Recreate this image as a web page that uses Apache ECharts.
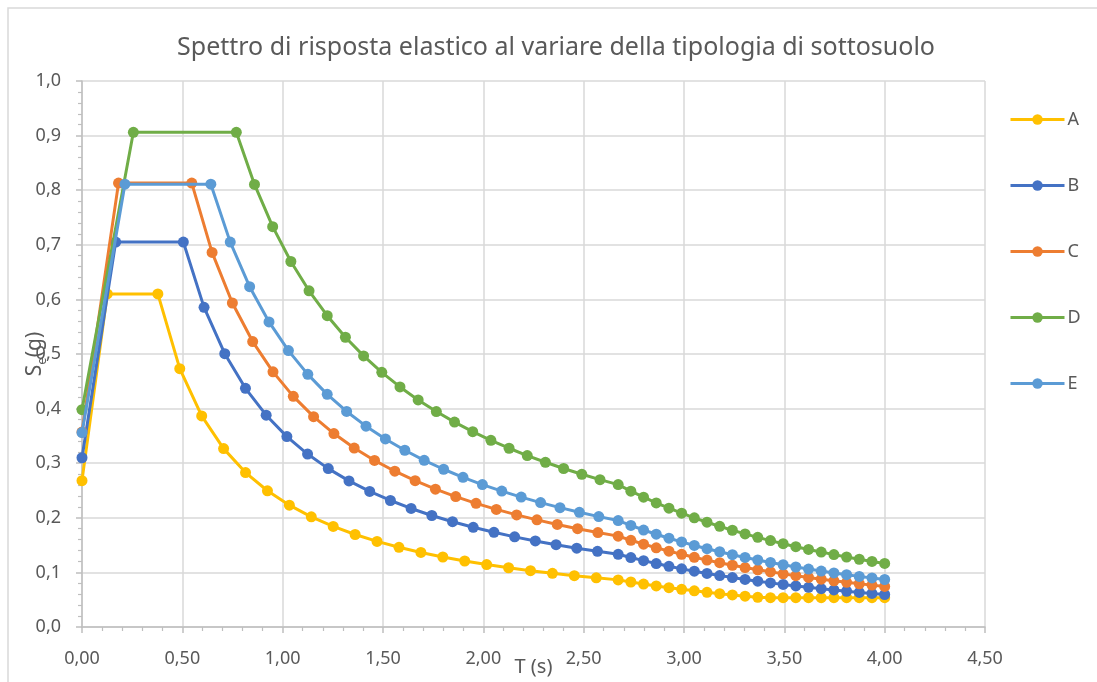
<!DOCTYPE html>
<html>
<head>
<meta charset="utf-8">
<script src="https://cdn.jsdelivr.net/npm/echarts@6/dist/echarts.min.js"></script>
<style>
html,body{margin:0;padding:0;background:#fff;}
#chart{width:1097px;height:682px;}
</style>
</head>
<body>
<div id="chart"></div>
<script>
const titleText = 'Spettro di risposta elastico al variare della tipologia di sottosuolo';
const seriesNames = ['A', 'B', 'C', 'D', 'E'];
const xTicks = [0, 0.5, 1, 1.5, 2, 2.5, 3, 3.5, 4, 4.5];

// periods T (s) beyond TD, shared by all soil types
const tTail = [2.7352, 2.7985, 2.8617, 2.9250, 2.9882, 3.0514, 3.1147, 3.1779, 3.2411, 3.3044, 3.3676,
  3.4309, 3.4941, 3.5573, 3.6206, 3.6838, 3.7470, 3.8103, 3.8735, 3.9368, 4.0000];

// periods T (s) up to TD for each soil type
const tHeadA = [0, 0.126, 0.378, 0.4872, 0.5965, 0.7057, 0.8150, 0.9242, 1.0334, 1.1427, 1.2519, 1.3611,
  1.4704, 1.5796, 1.6889, 1.7981, 1.9073, 2.0166, 2.1258, 2.2350, 2.3443, 2.4535, 2.5628, 2.672];
const tHeadB = [0, 0.168, 0.505, 0.6082, 0.7114, 0.8146, 0.9178, 1.0210, 1.1241, 1.2273, 1.3305, 1.4337,
  1.5369, 1.6401, 1.7433, 1.8465, 1.9497, 2.0529, 2.1560, 2.2592, 2.3624, 2.4656, 2.5688, 2.672];
const tHeadC = [0, 0.182, 0.547, 0.6482, 0.7494, 0.8506, 0.9518, 1.0530, 1.1541, 1.2553, 1.3565, 1.4577,
  1.5589, 1.6601, 1.7613, 1.8625, 1.9637, 2.0649, 2.1660, 2.2672, 2.3684, 2.4696, 2.5708, 2.672];
const tHeadD = [0, 0.256, 0.769, 0.8596, 0.9502, 1.0409, 1.1315, 1.2221, 1.3127, 1.4033, 1.4940, 1.5846,
  1.6752, 1.7658, 1.8564, 1.9471, 2.0377, 2.1283, 2.2189, 2.3095, 2.4001, 2.4908, 2.5814, 2.672];
const tHeadE = [0, 0.214, 0.642, 0.7387, 0.8353, 0.9320, 1.0287, 1.1253, 1.2220, 1.3187, 1.4153, 1.5120,
  1.6087, 1.7053, 1.8020, 1.8987, 1.9953, 2.0920, 2.1887, 2.2853, 2.3820, 2.4787, 2.5753, 2.672];

// Se (g) values
const seA = [0.268, 0.61, 0.61, 0.4732, 0.3866, 0.3267, 0.2829, 0.2495, 0.2231, 0.2018, 0.1842, 0.1694,
  0.1568, 0.1460, 0.1365, 0.1282, 0.1209, 0.1143, 0.1085, 0.1032, 0.0984, 0.0940, 0.0900, 0.0863,
  0.0824, 0.0787, 0.0752, 0.0720, 0.0690, 0.0662, 0.0635, 0.0610, 0.0587, 0.0564, 0.0543,
  0.0536, 0.0536, 0.0536, 0.0536, 0.0536, 0.0536, 0.0536, 0.0536, 0.0536, 0.0536];
const seB = [0.31, 0.705, 0.705, 0.5854, 0.5005, 0.4371, 0.3879, 0.3487, 0.3167, 0.2901, 0.2676, 0.2483,
  0.2317, 0.2171, 0.2042, 0.1928, 0.1826, 0.1734, 0.1651, 0.1576, 0.1507, 0.1444, 0.1386, 0.1332,
  0.1272, 0.1215, 0.1162, 0.1112, 0.1065, 0.1022, 0.0981, 0.0942, 0.0906, 0.0871, 0.0839,
  0.0808, 0.0779, 0.0752, 0.0726, 0.0701, 0.0678, 0.0655, 0.0634, 0.0614, 0.0595];
const seC = [0.357, 0.813, 0.813, 0.6861, 0.5934, 0.5228, 0.4673, 0.4224, 0.3853, 0.3543, 0.3278, 0.3051,
  0.2853, 0.2679, 0.2525, 0.2388, 0.2265, 0.2154, 0.2053, 0.1962, 0.1878, 0.1801, 0.1730, 0.1664,
  0.1588, 0.1517, 0.1451, 0.1389, 0.1331, 0.1276, 0.1225, 0.1177, 0.1131, 0.1088, 0.1048,
  0.1010, 0.0973, 0.0939, 0.0907, 0.0876, 0.0846, 0.0819, 0.0792, 0.0767, 0.0743];
const seD = [0.398, 0.906, 0.906, 0.8105, 0.7332, 0.6694, 0.6158, 0.5701, 0.5307, 0.4965, 0.4664, 0.4397,
  0.4159, 0.3946, 0.3753, 0.3578, 0.3419, 0.3274, 0.3140, 0.3017, 0.2903, 0.2797, 0.2699, 0.2608,
  0.2488, 0.2377, 0.2273, 0.2176, 0.2085, 0.1999, 0.1919, 0.1843, 0.1772, 0.1705, 0.1642,
  0.1582, 0.1525, 0.1471, 0.1420, 0.1372, 0.1326, 0.1282, 0.1241, 0.1201, 0.1164];
const seE = [0.356, 0.811, 0.811, 0.7049, 0.6233, 0.5587, 0.5062, 0.4627, 0.4261, 0.3948, 0.3679, 0.3444,
  0.3237, 0.3053, 0.2889, 0.2742, 0.2609, 0.2489, 0.2379, 0.2278, 0.2186, 0.2101, 0.2022, 0.1949,
  0.1860, 0.1776, 0.1699, 0.1626, 0.1558, 0.1494, 0.1434, 0.1378, 0.1324, 0.1274, 0.1227,
  0.1182, 0.1140, 0.1099, 0.1061, 0.1025, 0.0991, 0.0958, 0.0927, 0.0898, 0.0870];

const colors = ['#FFC000', '#4472C4', '#ED7D31', '#70AD47', '#5B9BD5'];
const tHeads = [tHeadA, tHeadB, tHeadC, tHeadD, tHeadE];
const seVals = [seA, seB, seC, seD, seE];

const FONT = '"Noto Sans", "Open Sans", sans-serif';
const GREY = '#595959';

const series = seriesNames.map((name, i) => {
  const ts = tHeads[i].concat(tTail);
  return {
    name: name,
    type: 'line',
    data: ts.map((t, j) => [t, seVals[i][j]]),
    symbol: 'circle',
    symbolSize: 11,
    showAllSymbol: true,
    lineStyle: { width: 3, color: colors[i] },
    itemStyle: { color: colors[i] },
    z: 2 + i
  };
});

const chart = echarts.init(document.getElementById('chart'), null, { renderer: 'canvas' });
chart.setOption({
  animation: false,
  color: colors,
  graphic: [{
    type: 'rect',
    shape: { x: 8, y: 8, width: 1200, height: 800 },
    style: { fill: 'none', stroke: '#d9d9d9', lineWidth: 1.5 },
    silent: true, z: -10
  }],
  title: {
    text: titleText,
    left: 556,
    textAlign: 'center',
    top: 35,
    padding: 0,
    textStyle: { fontFamily: FONT, fontSize: 25, fontWeight: 'normal', color: GREY }
  },
  legend: {
    orient: 'vertical',
    left: 1004,
    top: 105,
    itemWidth: 54,
    itemHeight: 13,
    itemGap: 47,
    data: seriesNames,
    lineStyle: { width: 3 },
    textStyle: { fontFamily: FONT, fontSize: 18, color: GREY, lineHeight: 19, padding: [0, 0, 0, -2] }
  },
  grid: { left: 82, right: 112, top: 81, bottom: 55, containLabel: false, outerBoundsMode: 'none' },
  xAxis: {
    type: 'value',
    min: xTicks[0],
    max: xTicks[xTicks.length - 1],
    interval: 0.5,
    name: 'T (s)',
    nameLocation: 'middle',
    nameGap: 30,
    nameMoveOverlap: false,
    nameTextStyle: { fontFamily: FONT, fontSize: 20, color: GREY },
    axisLine: { show: true, lineStyle: { color: '#bfbfbf', width: 1.5 } },
    axisTick: { show: true, length: 6, lineStyle: { color: '#bfbfbf', width: 1.5 } },
    minorTick: { show: true, splitNumber: 5, length: 4, lineStyle: { color: '#bfbfbf', width: 1.2 } },
    splitLine: { show: true, lineStyle: { color: '#d9d9d9', width: 1.5 } },
    axisLabel: {
      margin: 23,
      fontFamily: FONT, fontSize: 18, color: GREY,
      formatter: v => v.toFixed(2).replace('.', ',')
    }
  },
  yAxis: {
    type: 'value',
    min: 0,
    max: 1,
    interval: 0.1,
    name: '{s|S}{e|e}{s|(g)}',
    nameLocation: 'middle',
    nameRotate: 90,
    nameGap: 33,
    nameMoveOverlap: false,
    nameTextStyle: {
      fontFamily: FONT, color: GREY,
      rich: {
        s: { fontFamily: FONT, fontSize: 21, color: GREY, lineHeight: 28, verticalAlign: 'middle' },
        e: { fontFamily: FONT, fontSize: 13, color: GREY, lineHeight: 28, verticalAlign: 'bottom' }
      }
    },
    axisLine: { show: true, lineStyle: { color: '#bfbfbf', width: 1.5 } },
    axisTick: { show: true, length: 6, lineStyle: { color: '#bfbfbf', width: 1.5 } },
    minorTick: { show: true, splitNumber: 5, length: 4, lineStyle: { color: '#bfbfbf', width: 1.2 } },
    splitLine: { show: true, lineStyle: { color: '#d9d9d9', width: 1.5 } },
    axisLabel: {
      margin: 21,
      fontFamily: FONT, fontSize: 18, color: GREY,
      formatter: v => v.toFixed(1).replace('.', ',')
    }
  },
  series: series
});
</script>
</body>
</html>
